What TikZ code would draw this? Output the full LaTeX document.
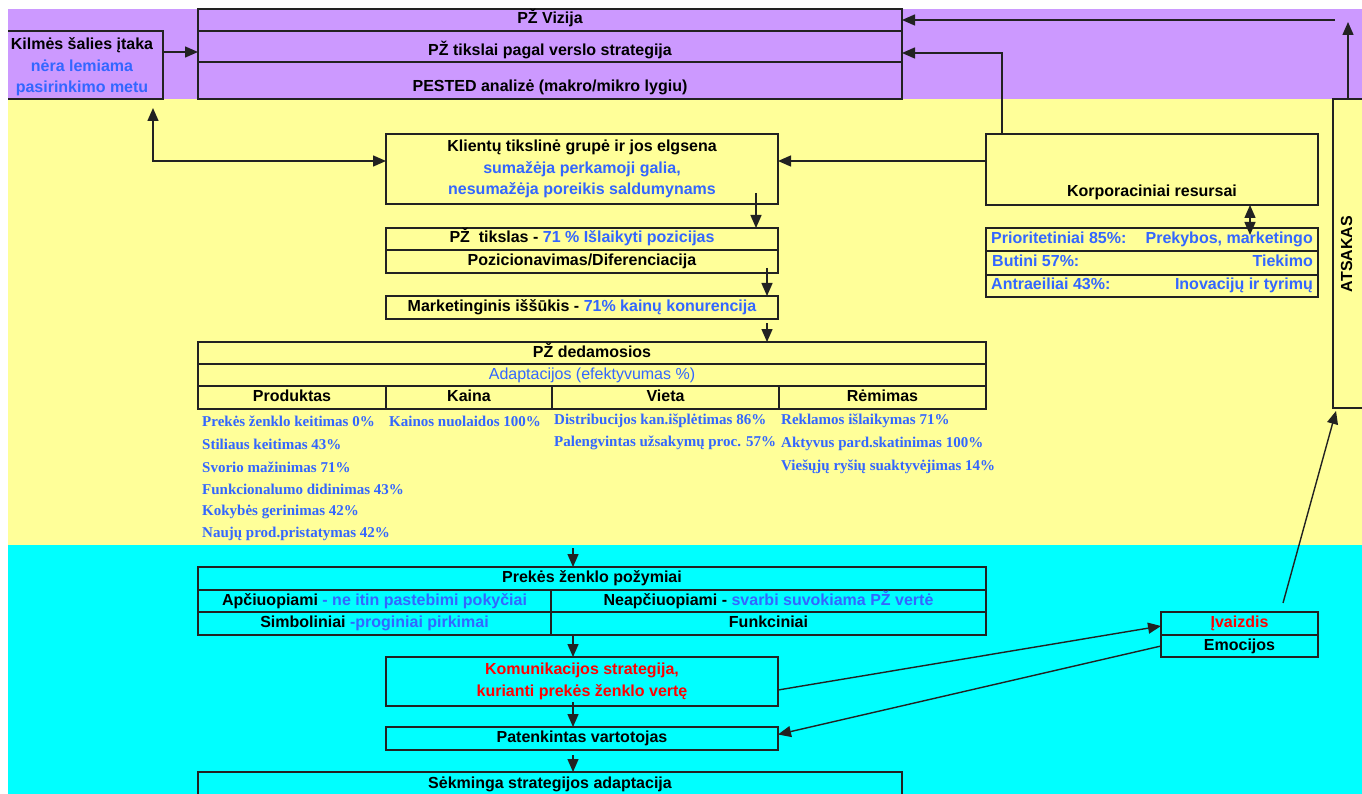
\documentclass[tikz,border=0pt]{standalone}
\usepackage{fontspec}
\setmainfont{Liberation Sans}
\newfontfamily\listfont{Liberation Serif}
\usetikzlibrary{arrows.meta}
\definecolor{bgpurple}{HTML}{CC99FF}
\definecolor{bgyellow}{HTML}{FFFF99}
\definecolor{bgcyan}{HTML}{00FFFF}
\definecolor{tblue}{HTML}{3366FF}
\definecolor{tred}{HTML}{FF0000}
\definecolor{ink}{HTML}{222222}
\newcommand\bl[1]{\textcolor{tblue}{#1}}
\begin{document}
\begin{tikzpicture}[x=1pt,y=-1pt,
  lbl/.style={font=\bfseries\fontsize{16}{20}\selectfont, text height=11.5pt, text depth=3.5pt, inner sep=0pt},
  mlbl/.style={font=\bfseries\fontsize{16}{21.5}\selectfont, align=center, inner sep=0pt},
  frame/.style={draw=ink, line width=1.4pt, inner sep=0pt, outer sep=0pt, anchor=north west},
  cell/.style={frame, lbl},
  item/.style={font=\listfont\bfseries\fontsize{15}{18}\selectfont, text=tblue, anchor=west, inner sep=0pt},
  arr/.style={draw=ink, line width=1.4pt, -{Triangle[length=13pt,width=11pt]}},
  darr/.style={draw=ink, line width=1.4pt, {Triangle[length=13pt,width=11pt]}-{Triangle[length=13pt,width=11pt]}},
  edgeline/.style={draw=ink, line width=1.4pt}]
\useasboundingbox (0,0) rectangle (1362,794);

% background bands
\fill[bgpurple] (8,9) rectangle (1362,99);
\fill[bgyellow] (8,99) rectangle (1362,545);
\fill[bgcyan] (8,545) rectangle (1362,794);

% strategic level
\node[cell, minimum width=704pt, minimum height=22pt] (vizija) at (198,9) {PŽ Vizija};
\node[frame, minimum width=704pt, minimum height=31pt] (tikslai) at (198,31) {};
\node[lbl] (tikslaiT) at (550,52) {PŽ tikslai pagal verslo strategija};
\node[frame, minimum width=704pt, minimum height=37pt] (pested) at (198,62) {};
\node[lbl] (pestedT) at (550,88) {PESTED analizė (makro/mikro lygiu)};

\node[anchor=north west, minimum width=155pt, minimum height=68pt, inner sep=0pt, outer sep=0pt] (kilmes) at (8,31) {};
\draw[edgeline] (kilmes.north west) -- (kilmes.north east) -- (kilmes.south east) -- (kilmes.south west);
\node[mlbl] (kilmesT) at (82,67)
  {Kilmės šalies įtaka\\\bl{nėra lemiama}\\\bl{pasirinkimo metu}};

% customers and resources
\node[frame, mlbl, minimum width=392pt, minimum height=70pt, anchor=north west] (klientu) at (386,134)
  {Klientų tikslinė grupė ir jos elgsena\\\bl{sumažėja perkamoji galia,}\\\bl{nesumažėja poreikis saldumynams}};
\node[frame, minimum width=332pt, minimum height=71pt] (korp) at (986,134) {};
\node[lbl] (korpT) at (1152,193) {Korporaciniai resursai};

\node[frame, minimum width=332pt, minimum height=23pt] (res1) at (986,228) {};
\node[frame, minimum width=332pt, minimum height=24pt] (res2) at (986,251) {};
\node[frame, minimum width=332pt, minimum height=22pt] (res3) at (986,275) {};
\node[lbl, anchor=west, text=tblue] (res1L) at (991,239.5) {Prioritetiniai 85\%:};
\node[lbl, anchor=east, text=tblue] (res1R) at (1313,239.5) {Prekybos, marketingo};
\node[lbl, anchor=west, text=tblue] (res2L) at (992,263) {Butini 57\%:};
\node[lbl, anchor=east, text=tblue] (res2R) at (1313,263) {Tiekimo};
\node[lbl, anchor=west, text=tblue] (res3L) at (991,286) {Antraeiliai 43\%:};
\node[lbl, anchor=east, text=tblue] (res3R) at (1313,286) {Inovacijų ir tyrimų};

\node[frame, minimum width=40pt, minimum height=309pt] (atsakas) at (1333,99) {};
\node[lbl, rotate=90] (atsakasT) at (1348,254) {ATSAKAS};

% goal and challenge
\node[cell, minimum width=392pt, minimum height=22pt] (tikslas) at (386,228) {PŽ~~tikslas - \bl{71 \% Išlaikyti pozicijas}};
\node[cell, minimum width=392pt, minimum height=23pt] (pozic) at (386,250) {Pozicionavimas/Diferenciacija};
\node[cell, minimum width=392pt, minimum height=23pt] (market) at (386,296) {Marketinginis iššūkis - \bl{71\% kainų konurencija}};

% marketing mix
\node[cell, minimum width=788pt, minimum height=22pt] (ded1) at (198,342) {PŽ dedamosios};
\node[cell, minimum width=788pt, minimum height=22pt, text=tblue, font=\fontsize{16}{20}\selectfont] (ded2) at (198,364) {Adaptacijos (efektyvumas \%)};
\node[cell, minimum width=188pt, minimum height=23pt] (prod) at (198,386) {Produktas};
\node[cell, minimum width=166pt, minimum height=23pt] (kaina) at (386,386) {Kaina};
\node[cell, minimum width=227pt, minimum height=23pt] (vieta) at (552,386) {Vieta};
\node[cell, minimum width=207pt, minimum height=23pt] (remimas) at (779,386) {Rėmimas};

\node[item] (p1) at (202,421) {Prekės ženklo keitimas 0\%};
\node[item] (p2) at (202,444) {Stiliaus keitimas 43\%};
\node[item] (p3) at (202,467) {Svorio mažinimas 71\%};
\node[item] (p4) at (202,489) {Funkcionalumo didinimas 43\%};
\node[item] (p5) at (202,512) {Kokybės gerinimas 42\%};
\node[item] (p6) at (202,534) {Naujų prod.pristatymas 42\%};
\node[item] (k1) at (389,421) {Kainos nuolaidos 100\%};
\node[item] (v1) at (554,421) {Distribucijos kan.išplėtimas 86\%};
\node[item] (v2) at (554,443) {Palengvintas užsakymų proc. 57\%};
\node[item] (r1) at (781,421) {Reklamos išlaikymas 71\%};
\node[item] (r2) at (781,444) {Aktyvus pard.skatinimas 100\%};
\node[item] (r3) at (781,467) {Viešųjų ryšių suaktyvėjimas 14\%};

% brand attributes
\node[cell, minimum width=788pt, minimum height=23pt] (poz1) at (198,567) {Prekės ženklo požymiai};
\node[cell, minimum width=353pt, minimum height=22pt] (poz2L) at (198,590) {Apčiuopiami \bl{- ne itin pastebimi pokyčiai}};
\node[cell, minimum width=435pt, minimum height=22pt] (poz2R) at (551,590) {Neapčiuopiami - \bl{svarbi suvokiama PŽ vertė}};
\node[cell, minimum width=353pt, minimum height=23pt] (poz3L) at (198,612) {Simboliniai \bl{-proginiai pirkimai}};
\node[cell, minimum width=435pt, minimum height=23pt] (poz3R) at (551,612) {Funkciniai};

\node[frame, mlbl, minimum width=392pt, minimum height=49pt, text=tred, font=\bfseries\fontsize{16}{22}\selectfont] (kom) at (386,657)
  {Komunikacijos strategija,\\kurianti prekės ženklo vertę};
\node[cell, minimum width=392pt, minimum height=23pt] (pat) at (386,727) {Patenkintas vartotojas};
\node[frame, minimum width=704pt, minimum height=40pt] (sek) at (198,772) {};
\node[lbl] (sekT) at (550,784) {Sėkminga strategijos adaptacija};

\node[cell, minimum width=157pt, minimum height=23pt, text=tred] (ivaizdis) at (1161,612) {Įvaizdis};
\node[cell, minimum width=157pt, minimum height=22pt] (emocijos) at (1161,635) {Emocijos};

% connectors
\draw[arr] (kilmes.east |- tikslaiT) -- (tikslai.west |- tikslaiT);
\coordinate (kup) at (153,108);
\draw[darr] (kup) |- ([yshift=-27pt]klientu.north west);
\draw[arr] ([yshift=-27pt]korp.north west) -- ([yshift=-27pt]klientu.north east);
\draw[arr] ([xshift=16pt]korp.north west) |- ([yshift=-22pt]tikslai.north east);
\draw[darr] ([xshift=98pt]korp.south) -- ([xshift=98pt,yshift=-7pt]res1.north);
\coordinate (atop) at (1348,22);
\draw[arr] (atsakas.north west -| atop) -- (atop);
\coordinate (vstart) at (1335,20);
\draw[arr] (vstart) -- (vizija.east);

\draw[arr] ([xshift=-22pt,yshift=11pt]klientu.south east) coordinate (a1) -- (a1 |- tikslas.north);
\draw[arr] ([xshift=-11pt,yshift=5pt]pozic.south east) coordinate (a2) -- (a2 |- market.north);
\draw[arr] ([xshift=-11pt,yshift=-4pt]market.south east) coordinate (a3) -- (a3 |- ded1.north);

\coordinate (c1) at (573,548);
\draw[arr] (c1) -- (c1 |- poz1.north);
\draw[arr] ([xshift=22pt,yshift=-1pt]poz3R.south west) coordinate (c2) -- (c2 |- kom.north);
\draw[arr] ([xshift=187pt,yshift=4pt]kom.south west) coordinate (c3) -- (c3 |- pat.north);
\draw[arr] ([xshift=187pt,yshift=-5pt]pat.south west) coordinate (c4) -- (c4 |- sek.north);

\draw[arr] ([yshift=-8.5pt]kom.east) -- ([yshift=-2.5pt]ivaizdis.west);
\draw[arr] (emocijos.west) -- ([yshift=4pt]pat.east);
\coordinate (ivtop) at (1283,603);
\draw[arr] (ivtop) -- ([xshift=3pt,yshift=-3pt]atsakas.south west);
\end{tikzpicture}
\end{document}
